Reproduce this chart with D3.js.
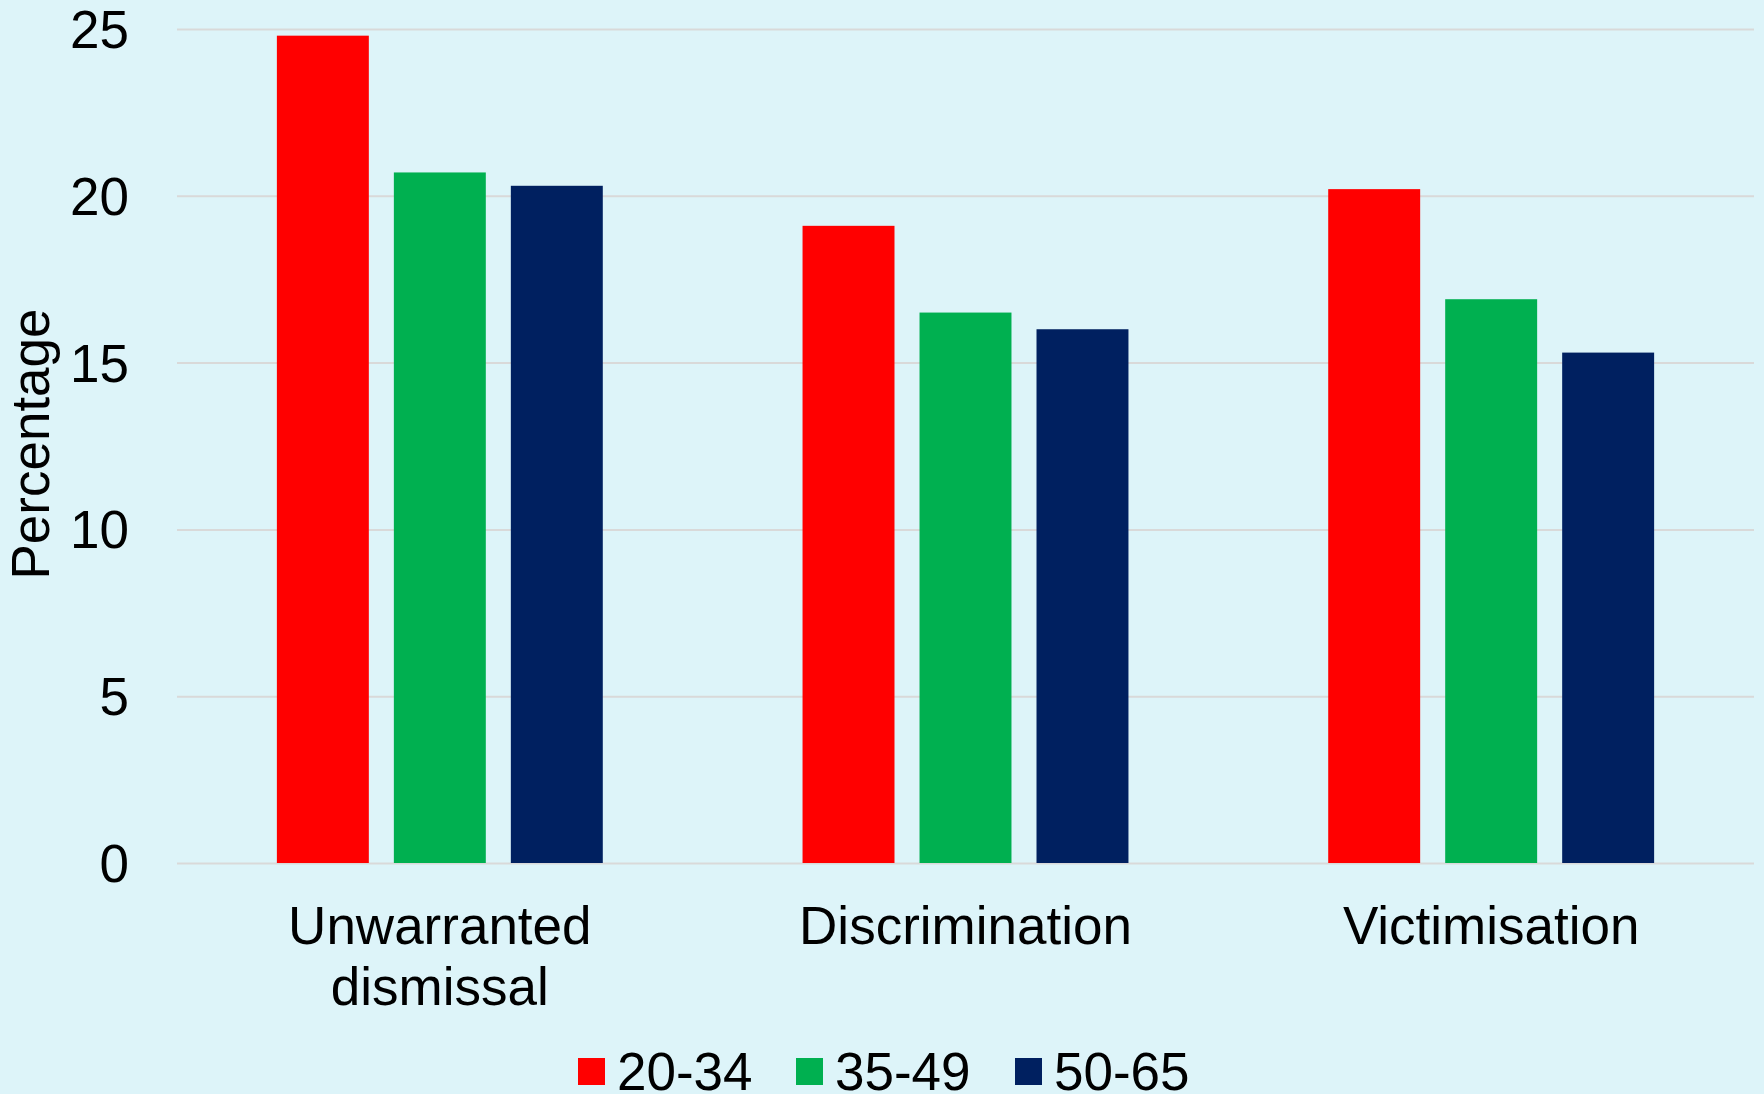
<!DOCTYPE html>
<html>
<head>
<meta charset="utf-8">
<script src="https://cdn.jsdelivr.net/npm/d3@7"></script>
<style>
  html, body { margin: 0; padding: 0; background: #ddf4f9; }
  svg { display: block; font-family: Arial, "Liberation Sans", sans-serif; }
</style>
</head>
<body>
<svg id="chart" width="1764" height="1094"></svg>
<script>
// Share of claims by age group, per claim type
const categories = ["Unwarranted dismissal", "Discrimination", "Victimisation"];
const categoryLines = [["Unwarranted", "dismissal"], ["Discrimination"], ["Victimisation"]];
const series = ["20-34", "35-49", "50-65"];
const values2034 = [24.8, 19.1, 20.2];
const values3549 = [20.7, 16.5, 16.9];
const values5065 = [20.3, 16.0, 15.3];
const yTicks = [0, 5, 10, 15, 20, 25];
const yTitle = "Percentage";

const seriesValues = [values2034, values3549, values5065];
const colors = ["#ff0000", "#00b050", "#002060"];

const svg = d3.select("#chart");
const W = 1764, H = 1094;
svg.append("rect").attr("width", W).attr("height", H).attr("fill", "#ddf4f9");

const plot = { left: 177, right: 1754, top: 29, bottom: 863 };
const fontSize = 53;

const x0 = d3.scaleBand().domain(categories).range([plot.left, plot.right])
  .paddingInner(0.38).paddingOuter(0.19);
const x1 = d3.scaleBand().domain(series).range([0, x0.bandwidth()])
  .paddingInner(0.214).paddingOuter(0);
const y = d3.scaleLinear().domain([0, 25]).range([plot.bottom, plot.top]);

// Y axis with gridlines
const yAxis = svg.append("g")
  .attr("transform", `translate(${plot.left},0)`)
  .call(d3.axisLeft(y).tickValues(yTicks).tickFormat(d3.format("d"))
    .tickSize(-(plot.right - plot.left)).tickPadding(48));
yAxis.select(".domain").remove();
yAxis.selectAll(".tick line").attr("stroke", "#d9d9d9").attr("stroke-width", 2);
yAxis.selectAll(".tick text")
  .attr("font-size", fontSize).attr("fill", "#000").attr("dy", "0.35em")
  .attr("font-family", "Arial, 'Liberation Sans', sans-serif");

// Bars
const rows = categories.map((c, i) => ({ cat: c, vals: series.map((s, j) => ({ s, v: seriesValues[j][i], j })) }));
const groups = svg.append("g").selectAll("g").data(rows).join("g")
  .attr("transform", d => `translate(${x0(d.cat)},0)`);
groups.selectAll("rect").data(d => d.vals).join("rect")
  .attr("x", d => x1(d.s))
  .attr("width", x1.bandwidth())
  .attr("y", d => y(d.v))
  .attr("height", d => y(0) - y(d.v))
  .attr("fill", d => colors[d.j]);

// Category labels
const xAxis = svg.append("g")
  .attr("transform", `translate(0,${plot.bottom})`)
  .call(d3.axisBottom(x0).tickSize(0).tickFormat(""));
xAxis.select(".domain").remove();
xAxis.selectAll(".tick").each(function(d, i) {
  const t = d3.select(this).append("text")
    .attr("text-anchor", "middle").attr("fill", "#000")
    .attr("font-size", fontSize);
  categoryLines[i].forEach((line, k) => {
    t.append("tspan").attr("x", 0).attr("y", 81 + k * 61).text(line);
  });
});

// Y axis title
svg.append("text")
  .attr("transform", "translate(49,444) rotate(-90)")
  .attr("text-anchor", "middle")
  .attr("font-size", fontSize).attr("fill", "#000")
  .text(yTitle);

// Legend
const legendX = [578, 796, 1015];
const legend = svg.append("g");
series.forEach((s, j) => {
  legend.append("rect").attr("x", legendX[j]).attr("y", 1058)
    .attr("width", 27).attr("height", 27).attr("fill", colors[j]);
  legend.append("text").attr("x", legendX[j] + 39).attr("y", 1090)
    .attr("font-size", fontSize).attr("fill", "#000").text(s);
});
</script>
</body>
</html>
